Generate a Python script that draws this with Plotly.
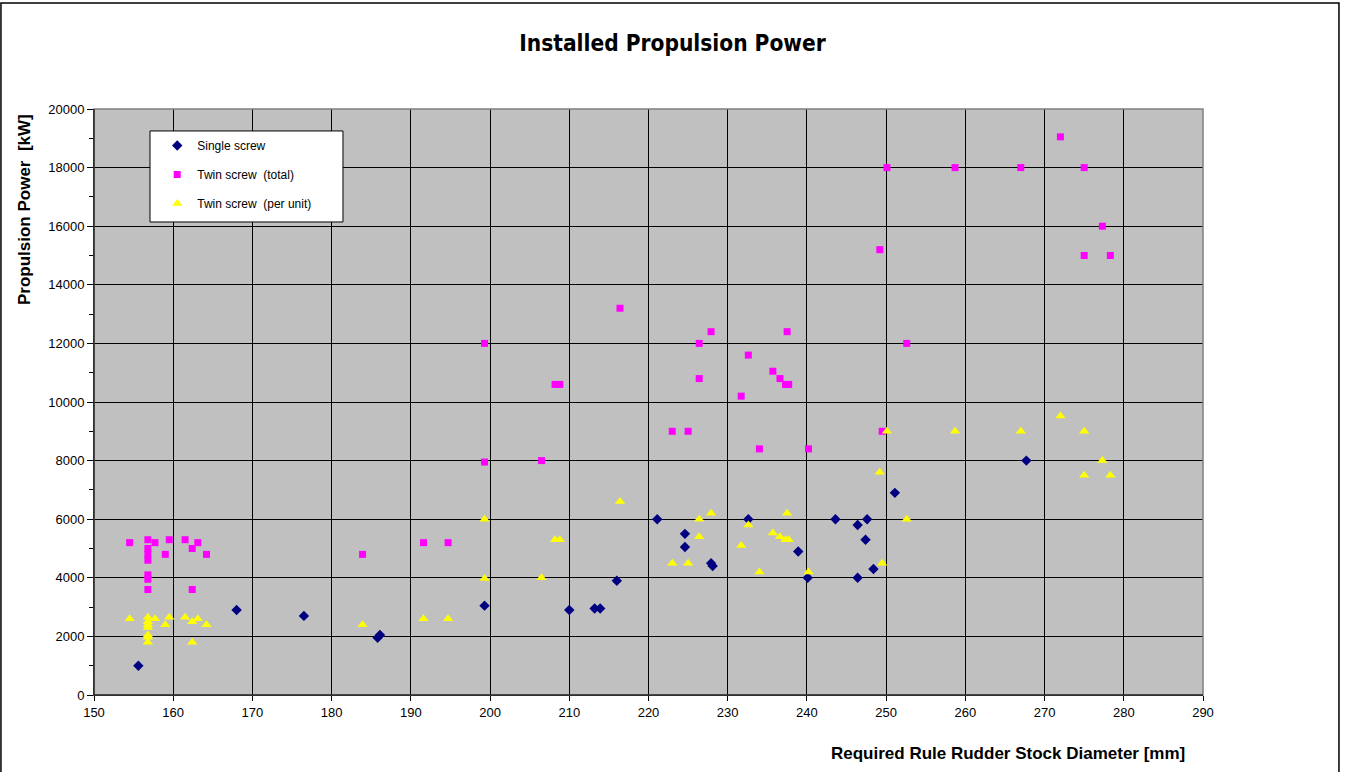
import plotly.graph_objects as go

# single screw ships
single_x = [155.6, 168.0, 176.5, 185.8, 186.1, 199.3, 210.0, 213.2, 213.9, 216.0,
            221.1, 224.6, 224.6, 227.9, 228.1, 232.6, 238.9, 240.1, 243.6, 246.4,
            246.4, 247.4, 247.6, 248.4, 251.1, 267.7]
single_kw = [1000, 2900, 2700, 1950, 2050, 3050, 2900, 2950, 2950, 3900,
             6000, 5500, 5050, 4500, 4400, 6000, 4900, 4000, 6000, 5800,
             4000, 5300, 6000, 4300, 6900, 8000]

# twin screw ships
twin_x = [154.5, 156.8, 156.8, 156.8, 156.8, 156.8, 156.8, 156.8, 157.7, 159.0,
          159.5, 161.5, 162.4, 162.4, 163.1, 164.2, 183.9, 191.6, 194.7, 199.3,
          199.3, 206.5, 208.2, 208.8, 216.4, 223.0, 225.0, 226.4, 226.4, 227.9,
          231.7, 232.6, 234.0, 235.7, 236.6, 237.3, 237.7, 237.5, 240.2, 249.2,
          249.5, 250.1, 252.6, 258.7, 267.0, 272.0, 275.0, 275.0, 277.3, 278.3]
twin_total_kw = [5200, 5300, 5000, 4800, 4600, 4100, 3950, 3600, 5200, 4800,
                 5300, 5300, 5000, 3600, 5200, 4800, 4800, 5200, 5200, 7950,
                 12000, 8000, 10600, 10600, 13200, 9000, 9000, 12000, 10800, 12400,
                 10200, 11600, 8400, 11050, 10800, 10600, 10600, 12400, 8400, 15200,
                 9000, 18000, 12000, 18000, 18000, 19050, 18000, 15000, 16000, 15000]
twin_unit_kw = [2600, 2650, 2500, 2400, 2300, 2050, 1975, 1800, 2600, 2400,
                2650, 2650, 2500, 1800, 2600, 2400, 2400, 2600, 2600, 3975,
                6000, 4000, 5300, 5300, 6600, 4500, 4500, 6000, 5400, 6200,
                5100, 5800, 4200, 5525, 5400, 5300, 5300, 6200, 4200, 7600,
                4500, 9000, 6000, 9000, 9000, 9525, 9000, 7500, 8000, 7500]

font = "Liberation Sans, Arial, sans-serif"

fig = go.Figure()
fig.add_trace(go.Scatter(x=single_x, y=single_kw, mode="markers", name="Single screw",
                         legendgroup="a",
                         marker=dict(symbol="diamond", size=8, color="#000080")))
fig.add_trace(go.Scatter(x=twin_x, y=twin_total_kw, mode="markers", name="Twin screw  (total)",
                         legendgroup="b",
                         marker=dict(symbol="square", size=7, color="#FF00FF")))
fig.add_trace(go.Scatter(x=twin_x, y=twin_unit_kw, mode="markers", name="Twin screw  (per unit)",
                         legendgroup="c",
                         marker=dict(symbol="triangle-up", size=9, color="#FFFF00")))

fig.update_xaxes(range=[150, 290], dtick=10, tick0=150, showgrid=True, gridcolor="black",
                 gridwidth=1, showline=True, linecolor="black", linewidth=1,
                 ticks="outside", ticklen=5, tickcolor="black", zeroline=False,
                 tickfont=dict(family=font, size=13, color="black"))
fig.update_yaxes(range=[0, 20000], dtick=2000, tickformat="d", showgrid=True,
                 gridcolor="black", gridwidth=1, showline=True, linecolor="black",
                 linewidth=1, ticks="outside", ticklen=6, tickcolor="black", zeroline=False,
                 minor=dict(dtick=1000, ticks="outside", ticklen=4, tickcolor="black",
                            showgrid=False),
                 tickfont=dict(family=font, size=13, color="black"))

# gray border on the top/right of the plot area, outer chart frame
fig.add_shape(type="rect", xref="paper", yref="paper", x0=0, y0=0, x1=1, y1=1,
              line=dict(color="#808080", width=1.5), layer="above")
fig.add_shape(type="line", xref="paper", yref="paper", x0=0, y0=0, x1=0, y1=1,
              line=dict(color="black", width=1), layer="above")
fig.add_shape(type="line", xref="paper", yref="paper", x0=0, y0=0, x1=1, y1=0,
              line=dict(color="black", width=1), layer="above")
fig.add_shape(type="rect", xref="paper", yref="paper", x0=-0.0839, y0=-0.14, x1=1.1226, y1=1.181,
              line=dict(color="black", width=1.5))
# legend box
fig.add_shape(type="rect", xref="paper", yref="paper", x0=0.0505, y0=0.8072, x1=0.2245, y1=0.9625,
              line=dict(color="black", width=1), fillcolor="white", layer="above")

fig.add_annotation(text="<b>Propulsion Power  [kW]</b>", xref="paper", yref="paper",
                   x=-0.062, y=0.828, xanchor="center", yanchor="middle",
                   textangle=-90, showarrow=False,
                   font=dict(family=font, size=17, color="black"))
fig.add_annotation(text="<b>Required Rule Rudder Stock Diameter [mm]</b>", xref="paper",
                   yref="paper", x=0.824, y=-0.099, xanchor="center", yanchor="middle",
                   showarrow=False,
                   font=dict(family=font, size=17, color="black"))

fig.update_layout(
    width=1345, height=772,
    margin=dict(l=94, r=142, t=109, b=77),
    title=dict(text="<b>Installed Propulsion Power</b>", x=0.5, xref="container",
               y=0.944, yref="container", xanchor="center", yanchor="middle",
               font=dict(family="Liberation Sans Narrow, DejaVu Sans Condensed, Arial Narrow, sans-serif",
                         size=22.5, color="black")),
    plot_bgcolor="#C0C0C0", paper_bgcolor="white",
    showlegend=True,
    legend=dict(x=0.057, y=0.9625, xanchor="left", yanchor="top",
                bgcolor="rgba(0,0,0,0)", borderwidth=0, traceorder="grouped",
                tracegroupgap=10, font=dict(family=font, size=12, color="black")),
)

fig.write_html("out.html", config={"displayModeBar": False},
               post_script="document.body.style.margin='0px';")
